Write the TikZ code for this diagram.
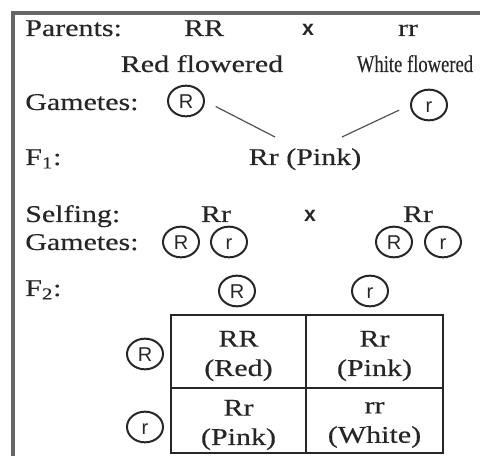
\documentclass[tikz,border=0pt]{standalone}
\usepackage{fontspec}
\usepackage{graphicx}
\setmainfont{Liberation Serif}[FakeStretch=1.25, FakeBold=0.4]
\newfontfamily\allelefont{Liberation Sans}
\usetikzlibrary{shapes.geometric}
\definecolor{inkgray}{gray}{0.15}
\definecolor{framegray}{gray}{0.4}

\begin{document}
\begin{tikzpicture}[x=0.75pt, y=-0.75pt,
    lbl/.style={anchor=base west, inner sep=0pt, font=\fontsize{18}{22}\selectfont, text=inkgray},
    txt/.style={anchor=base, inner sep=0pt, font=\fontsize{18}{22}\selectfont, text=inkgray},
    cell/.style={align=center, inner sep=0pt, font=\fontsize{18}{22}\selectfont, text=inkgray},
    cross/.style={anchor=base, inner sep=0pt, font=\allelefont\bfseries\fontsize{16}{18}\selectfont, text=inkgray},
    allele/.style={ellipse, draw=inkgray, line width=1.5pt, minimum width=27pt, minimum height=23pt,
                   inner sep=0pt, text height=10.7pt, text depth=0pt,
                   font=\allelefont\fontsize{15}{17}\selectfont, text=inkgray},
    link/.style={draw=inkgray!80, line width=0.9pt, shorten <=9pt},
    grid/.style={draw=inkgray, line width=1.5pt}
]
    \useasboundingbox (0,0) rectangle (480,456);
    \clip (0,0) rectangle (480,456);
    \draw[framegray, line width=2.6pt] (13,13) rectangle (500,480);

    % parents
    \node[lbl] (parents) at (25,36) {Parents:};
    \node[txt] (pRR) at (204,36) {RR};
    \node[cross] (x1) at (308,36) {x};
    \node[txt] (prr) at (408,36) {rr};
    \node[txt] (red) at (202,72) {Red flowered};
    \node[txt] (white) at (415,72) {\scalebox{0.62}[1]{White flowered}};

    % gametes and F1
    \node[lbl] (gam1) at (25,110) {Gametes:};
    \node[allele] (gR) at (186,101) {R};
    \node[allele] (gr) at (429,105) {r};
    \node[lbl] (f1lbl) at (25,165) {F\textsubscript{1}:};
    \node[txt] (f1) at (305,165) {Rr (Pink)};
    \coordinate (j1) at (275,137);
    \coordinate (j2) at (342,137);
    \draw[link] (gR.east) -- (j1);
    \draw[link] (gr.west) -- (j2);

    % selfing
    \node[lbl] (self) at (25,222) {Selfing:};
    \node[txt] (s1) at (216,222) {Rr};
    \node[cross] (x2) at (310,222) {x};
    \node[txt] (s2) at (418,222) {Rr};
    \node[lbl] (gam2) at (25,250) {Gametes:};
    \node[allele] (aR) at (181,242) {R};
    \node[allele] (ar) at (229,242) {r};
    \node[allele] (bR) at (394,242) {R};
    \node[allele] (br) at (443,242) {r};

    % F2 checkerboard
    \node[lbl] (f2lbl) at (25,296) {F\textsubscript{2}:};
    \node[allele] (qR) at (237,291) {R};
    \node[allele] (qr) at (370,291) {r};
    \node[allele] (pR) at (145,354) {R};
    \node[allele] (pr) at (145,427) {r};
    \draw[grid] (171,315) rectangle (443,453);
    \draw[grid] (306,315) -- (306,453);
    \draw[grid] (171,388) -- (443,388);
    \node[cell] (c11) at (238.5,356) {RR\\(Red)};
    \node[cell] (c12) at (374.5,356) {Rr\\(Pink)};
    \node[cell] (c21) at (238.5,425) {Rr\\(Pink)};
    \node[cell] (c22) at (374.5,425) {rr\\(White)};
\end{tikzpicture}
\end{document}
